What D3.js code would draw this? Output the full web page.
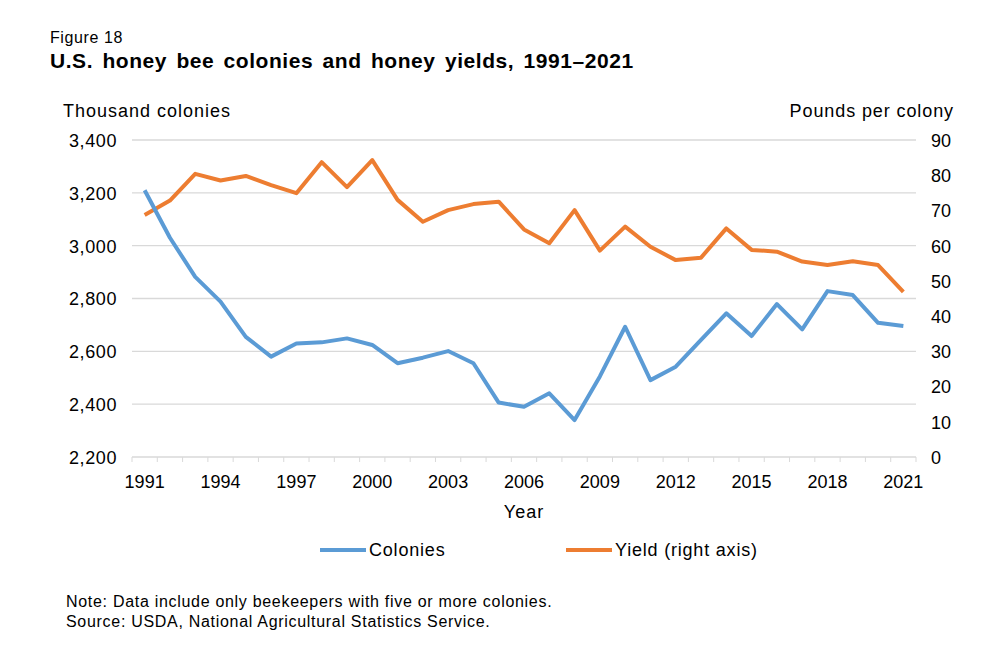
<!DOCTYPE html>
<html>
<head>
<meta charset="utf-8">
<script src="https://cdn.jsdelivr.net/npm/d3@7"></script>
<style>
  body { margin: 0; background: #fff; }
  svg text { font-family: "Liberation Sans", Arial, sans-serif; fill: #000; }
</style>
</head>
<body>
<div id="chart"></div>
<script>
// Data
const years = d3.range(1991, 2022);
const colonies = [3210, 3030, 2882, 2788, 2655, 2580, 2630, 2634, 2649, 2624,
  2555, 2576, 2601, 2555, 2406, 2390, 2441, 2340, 2505, 2693,
  2491, 2542, 2643, 2744, 2658, 2779, 2683, 2828, 2813, 2708, 2696];
const yieldLbs = [68.7, 72.8, 80.4, 78.5, 79.8, 77.2, 74.9, 83.7, 76.6, 84.3,
  73.0, 66.8, 70.1, 71.8, 72.5, 64.6, 60.7, 70.1, 58.6, 65.4,
  59.7, 55.9, 56.6, 64.9, 58.8, 58.3, 55.5, 54.5, 55.6, 54.5, 46.9];
const leftTicks = [2200, 2400, 2600, 2800, 3000, 3200, 3400];
const rightTicks = [0, 10, 20, 30, 40, 50, 60, 70, 80, 90];

const W = 994, H = 655;
const plot = { left: 132, right: 916, top: 140, bottom: 457 };

const svg = d3.select("#chart").append("svg")
  .attr("width", W)
  .attr("height", H);

// Scales
const x = d3.scaleBand()
  .domain(years)
  .range([plot.left, plot.right]);

const yL = d3.scaleLinear().domain([2200, 3400]).range([plot.bottom, plot.top]);
const yR = d3.scaleLinear().domain([0, 90]).range([plot.bottom, plot.top]);

// Grid lines
svg.append("g")
  .selectAll("line")
  .data(leftTicks.slice(1))
  .enter().append("line")
  .attr("x1", plot.left).attr("x2", plot.right)
  .attr("y1", d => yL(d)).attr("y2", d => yL(d))
  .attr("stroke", "#d9d9d9")
  .attr("stroke-width", 1.3);

// X axis line + ticks between categories
const xAxis = svg.append("g")
  .attr("transform", `translate(0,${plot.bottom})`);
xAxis.append("line")
  .attr("x1", plot.left).attr("x2", plot.right)
  .attr("stroke", "#d9d9d9").attr("stroke-width", 1.3);
xAxis.selectAll(".tick")
  .data(years.concat([2022]))
  .enter().append("line")
  .attr("x1", d => d === 2022 ? plot.right : x(d))
  .attr("x2", d => d === 2022 ? plot.right : x(d))
  .attr("y1", 0).attr("y2", 5)
  .attr("stroke", "#d9d9d9").attr("stroke-width", 1);
xAxis.selectAll(".lbl")
  .data(years.filter((d, i) => i % 3 === 0))
  .enter().append("text")
  .attr("x", d => x(d) + x.bandwidth() / 2)
  .attr("y", 31)
  .attr("text-anchor", "middle")
  .attr("font-size", 18)
  .text(d => d);

// Left axis labels
svg.append("g")
  .selectAll("text")
  .data(leftTicks)
  .enter().append("text")
  .attr("x", 117)
  .attr("y", d => yL(d))
  .attr("dy", "0.38em")
  .attr("text-anchor", "end")
  .attr("font-size", 18)
  .attr("letter-spacing", 0.6)
  .text(d => d3.format(",")(d));

// Right axis labels
svg.append("g")
  .selectAll("text")
  .data(rightTicks)
  .enter().append("text")
  .attr("x", 931)
  .attr("y", d => yR(d))
  .attr("dy", "0.38em")
  .attr("text-anchor", "start")
  .attr("font-size", 18)
  .text(d => d);

// Lines
const cx = d => x(d) + x.bandwidth() / 2;

svg.append("path")
  .datum(years)
  .attr("fill", "none")
  .attr("stroke", "#ed7d31")
  .attr("stroke-width", 4)
  .attr("stroke-linejoin", "round")
  .attr("d", d3.line().x(cx).y((d, i) => yR(yieldLbs[i])));

svg.append("path")
  .datum(years)
  .attr("fill", "none")
  .attr("stroke", "#5b9bd5")
  .attr("stroke-width", 4)
  .attr("stroke-linejoin", "round")
  .attr("d", d3.line().x(cx).y((d, i) => yL(colonies[i])));

// Titles and labels
svg.append("text").attr("x", 50).attr("y", 43).attr("font-size", 16)
  .attr("letter-spacing", 0.6).text("Figure 18");
svg.append("text").attr("x", 50).attr("y", 68).attr("font-size", 21)
  .attr("font-weight", "bold").attr("letter-spacing", 0.55).attr("word-spacing", 3)
  .text("U.S. honey bee colonies and honey yields, 1991–2021");
svg.append("text").attr("x", 63).attr("y", 117).attr("font-size", 18)
  .attr("letter-spacing", 1).text("Thousand colonies");
svg.append("text").attr("x", 954).attr("y", 117).attr("font-size", 18)
  .attr("letter-spacing", 0.9).attr("text-anchor", "end").text("Pounds per colony");
svg.append("text").attr("x", 524).attr("y", 518).attr("font-size", 18)
  .attr("letter-spacing", 1).attr("text-anchor", "middle").text("Year");

// Legend
const legend = [
  { label: "Colonies", color: "#5b9bd5", x: 320 },
  { label: "Yield (right axis)", color: "#ed7d31", x: 566 }
];
const lg = svg.append("g").selectAll("g").data(legend).enter().append("g")
  .attr("transform", d => `translate(${d.x},550)`);
lg.append("line").attr("x1", 0).attr("x2", 46)
  .attr("stroke", d => d.color).attr("stroke-width", 4);
lg.append("text").attr("x", 49).attr("dy", "0.36em").attr("font-size", 18)
  .attr("letter-spacing", 0.8)
  .text(d => d.label);

// Notes
svg.append("text").attr("x", 66).attr("y", 607).attr("font-size", 16)
  .attr("letter-spacing", 0.7)
  .text("Note: Data include only beekeepers with five or more colonies.");
svg.append("text").attr("x", 66).attr("y", 627).attr("font-size", 16)
  .attr("letter-spacing", 0.7)
  .text("Source: USDA, National Agricultural Statistics Service.");
</script>
</body>
</html>
